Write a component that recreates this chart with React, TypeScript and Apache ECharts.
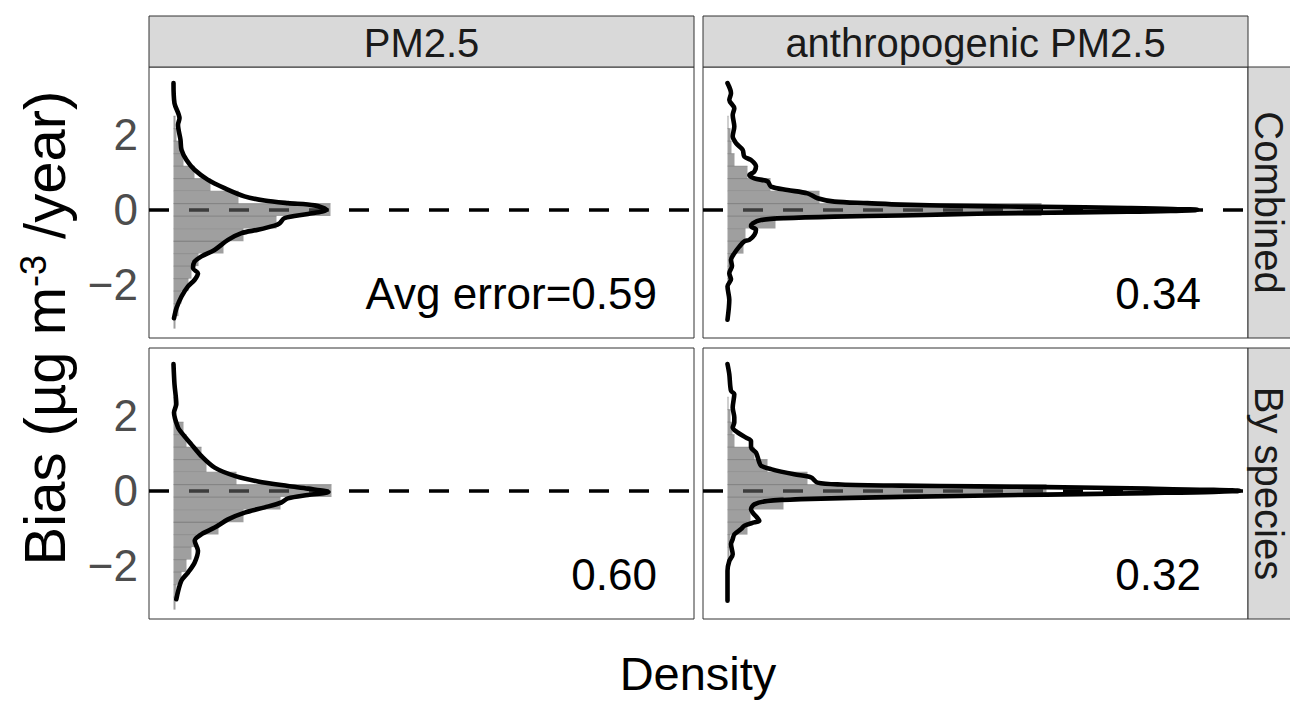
import React, { useEffect, useRef } from "react";
import * as echarts from "echarts";

// ---------- data ----------
const COL_LABELS = ["PM2.5", "anthropogenic PM2.5"];
const ROW_LABELS = ["Combined", "By species"];
const ERROR_LABELS = ["Avg error=0.59", "0.34", "0.60", "0.32"];
const Y_TICKS = [-2, 0, 2];

// histogram bin centres (bias, µg m-3 /year), bin width 1/3
const BIN_WIDTH = 1 / 3;
const BIN_CENTERS = [
  -3.0, -2.667, -2.333, -2.0, -1.667, -1.333, -1.0, -0.667, -0.333, 0.0,
  0.333, 0.667, 1.0, 1.333, 1.667, 2.0, 2.333,
];
// histogram densities per bin (same order as BIN_CENTERS)
const HIST_PM25_COMBINED = [0.02, 0.05, 0.08, 0.15, 0.18, 0.25, 0.5, 0.7, 1.03, 1.57, 0.65, 0.37, 0.21, 0.1, 0.07, 0.03, 0.02];
const HIST_ANTH_COMBINED = [0.0, 0.0, 0.01, 0.02, 0.03, 0.05, 0.16, 0.18, 0.48, 3.14, 0.92, 0.43, 0.2, 0.07, 0.04, 0.03, 0.01];
const HIST_PM25_SPECIES = [0.02, 0.03, 0.08, 0.13, 0.18, 0.23, 0.45, 0.7, 1.07, 1.58, 0.63, 0.33, 0.28, 0.13, 0.1, 0.02, 0.01];
const HIST_ANTH_SPECIES = [0.0, 0.0, 0.01, 0.01, 0.02, 0.03, 0.2, 0.23, 0.56, 3.19, 0.8, 0.4, 0.27, 0.07, 0.05, 0.03, 0.01];

// density curves: [density, bias]
const CURVE_PM25_COMBINED = [
  [0.0, 3.38], [0.01, 2.84], [0.06, 2.44], [0.045, 2.27], [0.07, 1.87], [0.08, 1.6],
  [0.13, 1.33], [0.21, 1.07], [0.345, 0.8], [0.51, 0.58], [0.71, 0.36], [0.91, 0.25],
  [1.145, 0.18], [1.41, 0.12], [1.53, 0.0], [1.345, -0.11], [1.11, -0.22], [1.06, -0.36],
  [1.01, -0.42], [0.845, -0.53], [0.68, -0.62], [0.545, -0.8], [0.41, -1.07], [0.28, -1.24],
  [0.21, -1.38], [0.195, -1.56], [0.245, -1.69], [0.21, -1.87], [0.145, -2.04], [0.08, -2.31],
  [0.03, -2.62], [0.005, -2.89],
];
const CURVE_ANTH_COMBINED = [
  [0.0, 3.38], [0.035, 3.11], [0.018, 2.93], [0.068, 2.71], [0.052, 2.53], [0.068, 2.22],
  [0.052, 1.96], [0.085, 1.78], [0.152, 1.6], [0.168, 1.42], [0.235, 1.33], [0.285, 1.16],
  [0.268, 1.02], [0.218, 0.93], [0.268, 0.84], [0.4, 0.76], [0.435, 0.62], [0.6, 0.53],
  [0.8, 0.44], [0.9, 0.31], [1.07, 0.22], [1.4, 0.18], [1.735, 0.14], [2.5, 0.1],
  [3.14, 0.08], [4.0, 0.05], [4.7, 0.0], [4.0, -0.05], [3.0, -0.08], [2.2, -0.12],
  [1.735, -0.15], [1.07, -0.18], [0.57, -0.22], [0.335, -0.27], [0.252, -0.36], [0.235, -0.44],
  [0.285, -0.53], [0.268, -0.67], [0.218, -0.8], [0.168, -0.84], [0.118, -0.98], [0.068, -1.16],
  [0.035, -1.33], [0.045, -1.5], [0.018, -1.69], [0.035, -1.85], [0.0, -2.04], [0.018, -2.4],
  [0.0, -2.93],
];
const CURVE_PM25_SPECIES = [
  [0.0, 3.38], [0.01, 2.84], [0.028, 2.31], [0.005, 2.09], [0.045, 1.69], [0.078, 1.56],
  [0.178, 1.24], [0.278, 0.93], [0.412, 0.62], [0.612, 0.4], [0.845, 0.25], [1.145, 0.13],
  [1.345, 0.06], [1.55, -0.03], [1.345, -0.11], [1.145, -0.2], [1.078, -0.31], [0.912, -0.44],
  [0.712, -0.58], [0.545, -0.76], [0.412, -0.98], [0.278, -1.16], [0.212, -1.33], [0.245, -1.6],
  [0.212, -1.91], [0.145, -2.18], [0.078, -2.4], [0.028, -2.89],
];
const CURVE_ANTH_SPECIES = [
  [0.0, 3.38], [0.018, 3.11], [0.035, 2.67], [0.068, 2.58], [0.052, 2.22], [0.068, 1.96],
  [0.068, 1.82], [0.052, 1.69], [0.1, 1.56], [0.185, 1.42], [0.235, 1.33], [0.235, 1.16],
  [0.285, 1.02], [0.318, 0.76], [0.335, 0.67], [0.435, 0.58], [0.668, 0.44], [0.835, 0.36],
  [0.9, 0.22], [1.135, 0.17], [1.735, 0.14], [2.5, 0.12], [3.19, 0.1], [4.2, 0.06],
  [5.12, 0.0], [4.2, -0.06], [3.19, -0.1], [1.735, -0.16], [0.735, -0.22], [0.4, -0.27],
  [0.268, -0.36], [0.235, -0.49], [0.252, -0.58], [0.318, -0.8], [0.268, -0.84], [0.168, -0.93],
  [0.135, -1.02], [0.068, -1.16], [0.052, -1.29], [0.035, -1.42], [0.052, -1.69], [0.018, -1.87],
  [0.0, -2.13], [0.0, -2.93],
];

const PANEL_HISTS = [HIST_PM25_COMBINED, HIST_ANTH_COMBINED, HIST_PM25_SPECIES, HIST_ANTH_SPECIES];
const PANEL_CURVES = [CURVE_PM25_COMBINED, CURVE_ANTH_COMBINED, CURVE_PM25_SPECIES, CURVE_ANTH_SPECIES];

// axis ranges
const X_MIN = -0.245;
const X_MAX = 5.205;
const Y_MIN = -3.417;
const Y_MAX = 3.81;

// ---------- layout ----------
const FONT = "'Liberation Sans', Arial, Helvetica, sans-serif";
const PANEL_LEFT = [149, 703];
const PANEL_TOP = [67, 348];
const PANEL_W = 545;
const PANEL_H = 271;
const STRIP = 51;
const LABEL_RIGHT = [657, 1201];

function buildOption() {
  const grids: any[] = [];
  const xAxes: any[] = [];
  const yAxes: any[] = [];
  const series: any[] = [];
  const graphic: any[] = [];

  for (let i = 0; i < 4; i++) {
    const col = i % 2;
    const row = Math.floor(i / 2);
    grids.push({
      left: PANEL_LEFT[col],
      top: PANEL_TOP[row],
      width: PANEL_W,
      height: PANEL_H,
      show: true,
      backgroundColor: "#ffffff",
      borderColor: "#333333",
      borderWidth: 1,
    });
    xAxes.push({ type: "value", gridIndex: i, min: X_MIN, max: X_MAX, show: false });
    yAxes.push({
      type: "value",
      gridIndex: i,
      min: Y_MIN,
      max: Y_MAX,
      axisLine: { show: false },
      axisTick: { show: false },
      splitLine: { show: false },
      axisLabel:
        col === 0
          ? {
              show: true,
              customValues: Y_TICKS,
              formatter: (v: number) => (v < 0 ? "\u2212" + Math.abs(v) : String(v)),
              fontSize: 44,
              color: "#4d4d4d",
              fontFamily: FONT,
              margin: 11,
            }
          : { show: false },
    });

    const curve = PANEL_CURVES[i];
    const hist = PANEL_HISTS[i].map((d, k) => [d, BIN_CENTERS[k]]);

    // zero reference line (dashed), drawn under the histogram
    series.push({
      type: "line",
      xAxisIndex: i,
      yAxisIndex: i,
      data: curve,
      symbol: "none",
      silent: true,
      lineStyle: { opacity: 0, width: 0 },
      z: 1,
      markLine: {
        z: 1,
        silent: true,
        symbol: ["none", "none"],
        label: { show: false },
        lineStyle: { color: "#000000", width: 3.6, type: [20, 20], opacity: 1 },
        emphasis: { disabled: true },
        data: [{ yAxis: 0 }],
      },
    });

    // histogram (horizontal bars)
    series.push({
      type: "custom",
      xAxisIndex: i,
      yAxisIndex: i,
      data: hist,
      z: 2,
      silent: true,
      renderItem: (params: any, api: any) => {
        const d = api.value(0);
        const c = api.value(1);
        const p1 = api.coord([0, c + BIN_WIDTH / 2]);
        const p2 = api.coord([d, c - BIN_WIDTH / 2]);
        if (p2[0] - p1[0] < 0.2) return null;
        return {
          type: "group",
          children: [
            {
              type: "rect",
              shape: { x: p1[0], y: p1[1], width: p2[0] - p1[0], height: p2[1] - p1[1] },
              style: { fill: "rgba(98,98,98,0.61)" },
            },
            {
              type: "line",
              shape: { x1: p1[0], y1: p1[1], x2: p2[0], y2: p1[1] },
              style: { stroke: "rgba(98,98,98,0.45)", lineWidth: 1 },
            },
          ],
        };
      },
    });

    // density curve
    series.push({
      type: "line",
      xAxisIndex: i,
      yAxisIndex: i,
      data: curve,
      symbol: "none",
      smooth: 0.3,
      silent: true,
      z: 3,
      lineStyle: { color: "#000000", width: 4.6, join: "round", cap: "round" },
    });

    // error annotation
    graphic.push({
      type: "text",
      x: LABEL_RIGHT[col],
      y: PANEL_TOP[row] + 226,
      z: 10,
      style: {
        text: ERROR_LABELS[i],
        fontSize: 44,
        fontFamily: FONT,
        fill: "#000000",
        align: "right",
        verticalAlign: "middle",
      },
    });
  }

  // column strips
  COL_LABELS.forEach((t, c) => {
    graphic.push({
      type: "rect",
      shape: { x: PANEL_LEFT[c], y: PANEL_TOP[0] - STRIP, width: PANEL_W, height: STRIP },
      style: { fill: "#d9d9d9", stroke: "#333333", lineWidth: 1 },
      z: 5,
    });
    graphic.push({
      type: "text",
      x: PANEL_LEFT[c] + PANEL_W / 2,
      y: PANEL_TOP[0] - STRIP / 2 + 1,
      z: 6,
      style: { text: t, fontSize: 40, fontFamily: FONT, fill: "#1a1a1a", align: "center", verticalAlign: "middle" },
    });
  });
  // row strips
  ROW_LABELS.forEach((t, r) => {
    graphic.push({
      type: "rect",
      shape: { x: PANEL_LEFT[1] + PANEL_W, y: PANEL_TOP[r], width: STRIP + 5, height: PANEL_H },
      style: { fill: "#d9d9d9", stroke: "#333333", lineWidth: 1 },
      z: 5,
    });
    graphic.push({
      type: "text",
      x: 1269,
      y: PANEL_TOP[r] + PANEL_H / 2,
      rotation: -Math.PI / 2,
      z: 6,
      style: { text: t, fontSize: 40, fontFamily: FONT, fill: "#1a1a1a", align: "center", verticalAlign: "middle" },
    });
  });

  // axis titles
  graphic.push({
    type: "text",
    x: 698,
    y: 673,
    z: 6,
    style: { text: "Density", fontSize: 47, fontFamily: FONT, fill: "#000000", align: "center", verticalAlign: "middle" },
  });
  graphic.push({
    type: "text",
    x: 44,
    y: 328,
    rotation: Math.PI / 2,
    z: 6,
    style: {
      text: "Bias (µg m{sup|-3} /year)",
      fontSize: 58,
      fontFamily: FONT,
      fill: "#000000",
      align: "center",
      verticalAlign: "middle",
      rich: {
        sup: { fontSize: 36, fontFamily: FONT, fill: "#000000", verticalAlign: "top", lineHeight: 36 },
      },
    },
  });

  return {
    animation: false,
    backgroundColor: "#ffffff",
    grid: grids,
    xAxis: xAxes,
    yAxis: yAxes,
    series,
    graphic,
  };
}

export default function App() {
  const ref = useRef<HTMLDivElement>(null);
  useEffect(() => {
    if (!ref.current) return;
    const chart = echarts.init(ref.current, null, { renderer: "svg" });
    chart.setOption(buildOption() as any);
    return () => chart.dispose();
  }, []);
  return (
    <div
      ref={ref}
      style={{ position: "fixed", left: 0, top: 0, width: 1290, height: 701, background: "#fff" }}
    />
  );
}
